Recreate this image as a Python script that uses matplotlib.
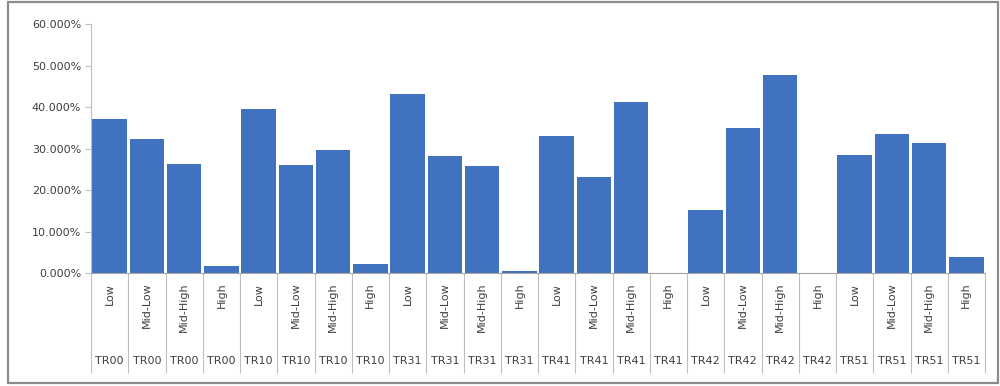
import matplotlib
matplotlib.use('Agg')
import matplotlib.pyplot as plt
from matplotlib.patches import Rectangle
from matplotlib.ticker import FuncFormatter
import matplotlib.transforms as mtransforms

groups = ['TR00', 'TR10', 'TR31', 'TR41', 'TR42', 'TR51']
levels = ['Low', 'Mid-Low', 'Mid-High', 'High']

# share per group, order Low, Mid-Low, Mid-High, High
values = [
    0.371, 0.323, 0.264, 0.017,   # TR00
    0.397, 0.261, 0.297, 0.022,   # TR10
    0.433, 0.282, 0.259, 0.004,   # TR31
    0.331, 0.232, 0.412, 0.0,     # TR41
    0.151, 0.350, 0.477, 0.0,     # TR42
    0.286, 0.336, 0.313, 0.039,   # TR51
]

inner_labels = levels * len(groups)
outer_labels = [g for g in groups for _ in levels]
x = list(range(len(values)))

txt_color = '#3f3f3f'
line_color = '#bfbfbf'

fig = plt.figure(figsize=(10, 3.86), dpi=100)
ax = fig.add_axes([0.091, 0.2927, 0.894, 0.644])

ax.bar(x, values, width=0.92, color='#4172c0', zorder=2)

ax.set_xlim(-0.5, len(values) - 0.5)
ax.set_ylim(0, 0.6)
ax.set_yticks([i / 10 for i in range(7)])
ax.yaxis.set_major_formatter(FuncFormatter(lambda v, p: f'{v * 100:.3f}%'))

for s in ['top', 'right']:
    ax.spines[s].set_visible(False)
ax.spines['left'].set_color(line_color)
ax.spines['bottom'].set_color('#a6a6a6')

ax.tick_params(axis='y', direction='out', length=4, color=line_color,
               labelsize=8, labelcolor=txt_color, pad=3)

# inner category labels, rotated
ax.set_xticks(x)
ax.set_xticklabels(inner_labels, rotation=90, va='top', ha='center')
ax.tick_params(axis='x', which='major', length=0, pad=7,
               labelsize=8, labelcolor=txt_color)

# separators between categories drawn as long minor ticks
ax.set_xticks([i - 0.5 for i in range(len(values) + 1)], minor=True)
ax.tick_params(axis='x', which='minor', direction='out', length=72,
               color=line_color, width=0.8)

# outer labels
trans = mtransforms.blended_transform_factory(ax.transData, ax.transAxes)
for xi, lab in zip(x, outer_labels):
    ax.text(xi, -0.352, lab, transform=trans, ha='center', va='center',
            fontsize=8, color=txt_color)

# outer frame of the chart
fig.patches.append(Rectangle((0.008, 0.008), 0.99, 0.987, transform=fig.transFigure,
                             fill=False, edgecolor='#8c8c8c', linewidth=1.6))

fig.savefig('out.png', dpi=100)
